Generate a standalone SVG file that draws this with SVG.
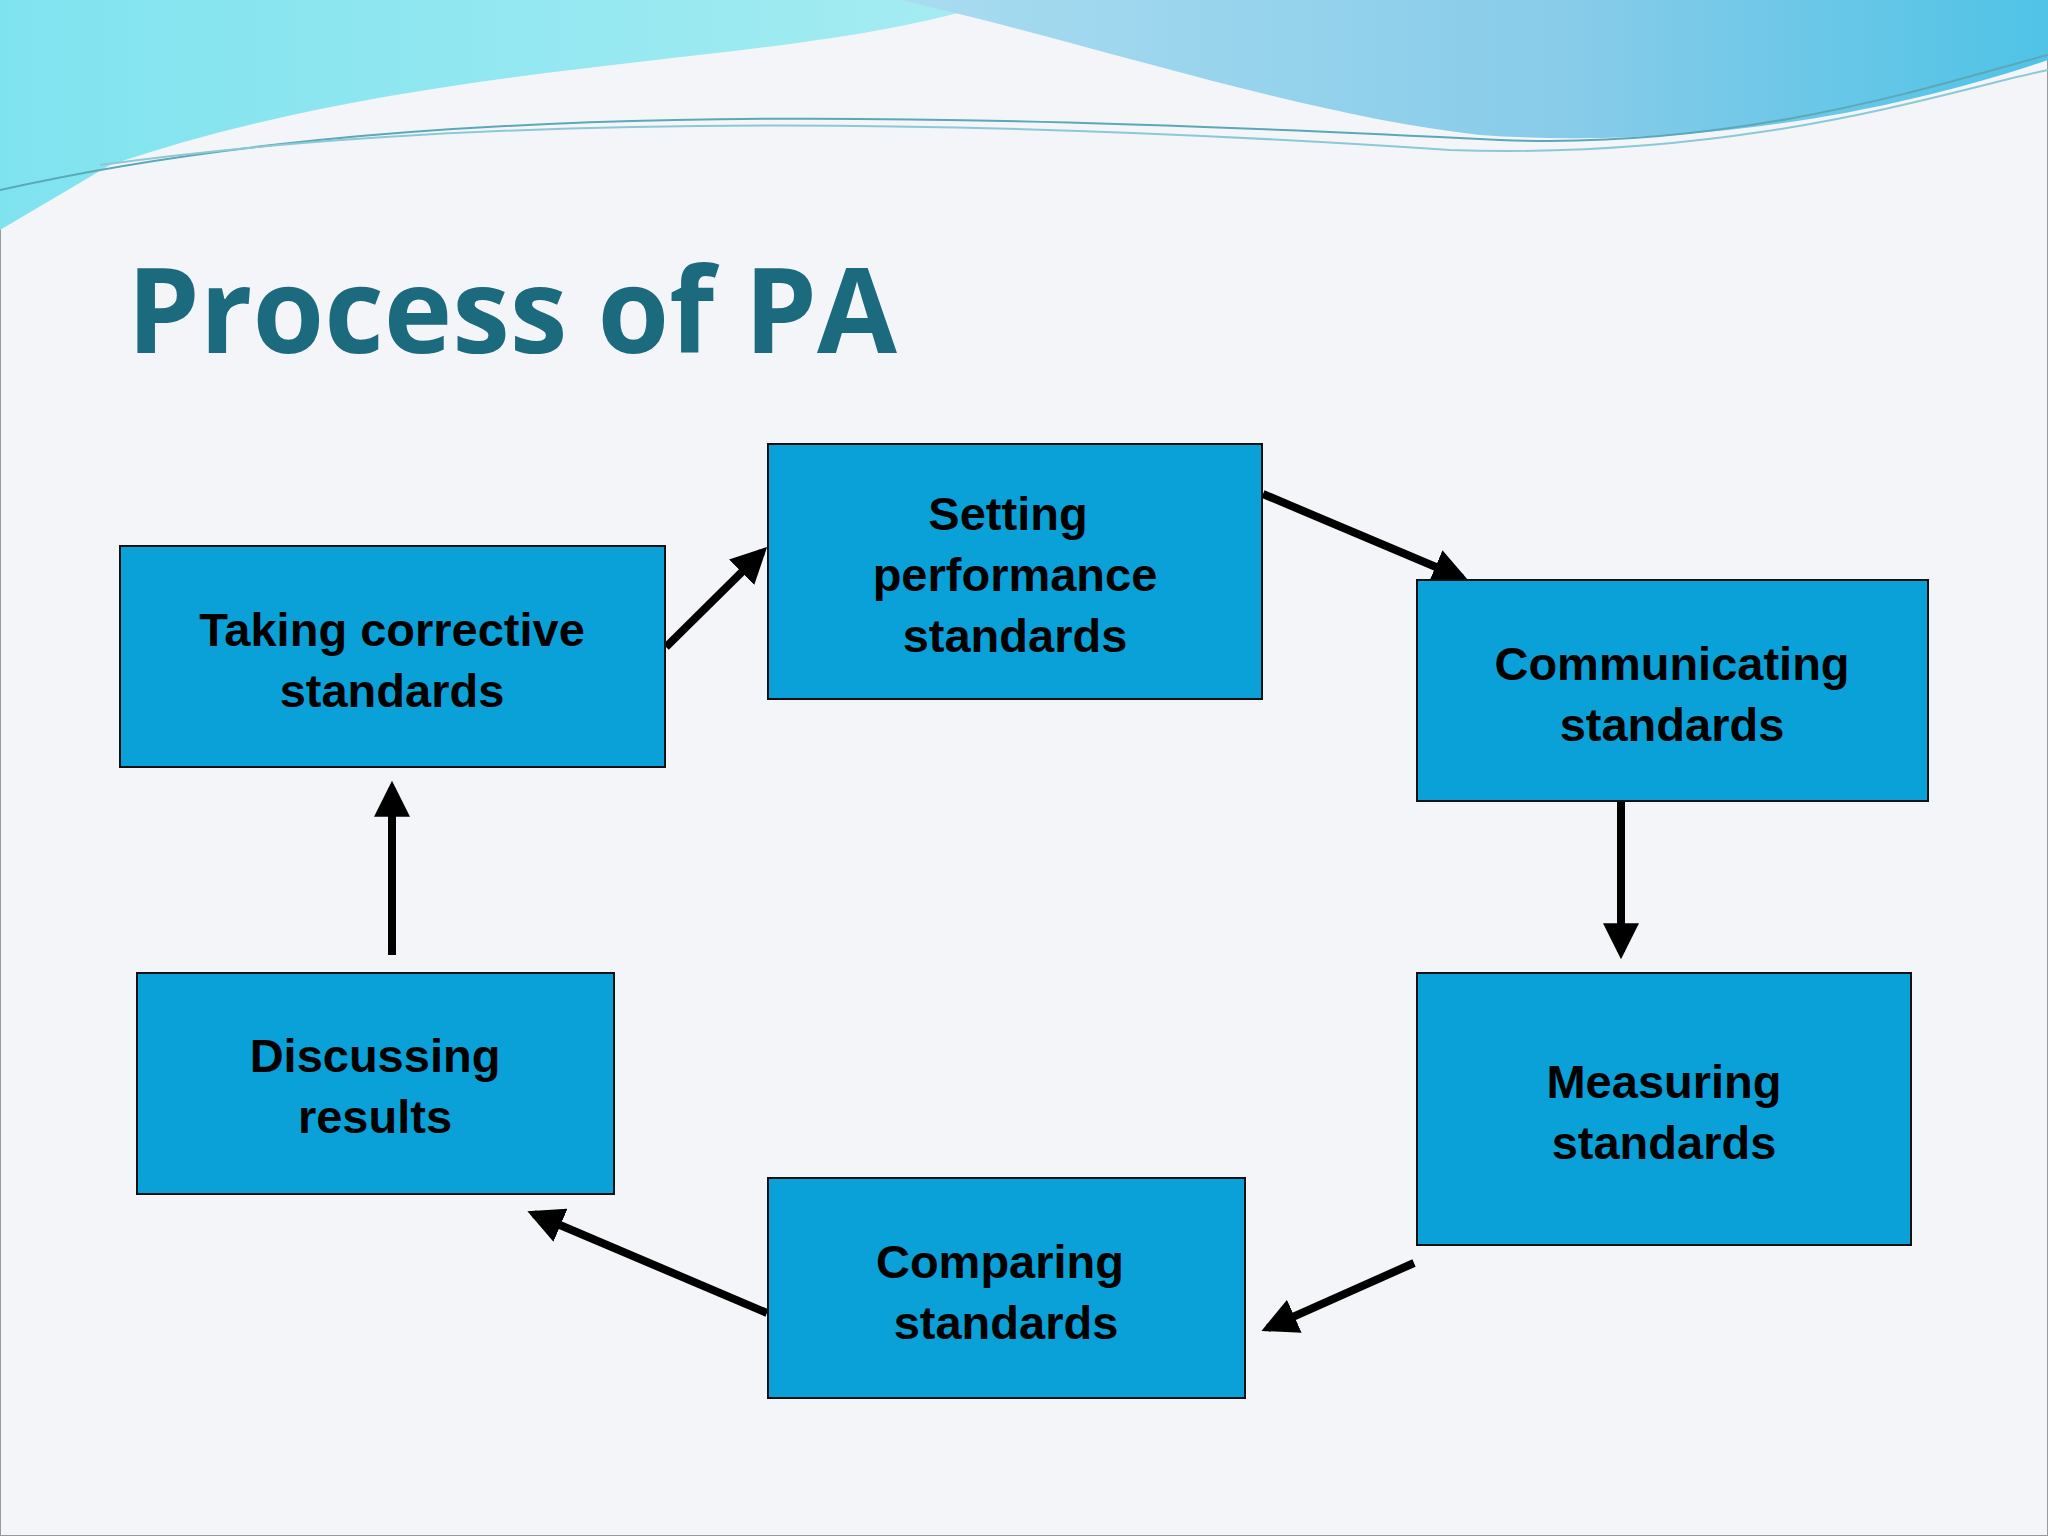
<svg xmlns="http://www.w3.org/2000/svg" width="2048" height="1536" viewBox="0 0 2048 1536">
<defs>
<linearGradient id="g1" x1="0" y1="0" x2="1" y2="0"><stop offset="0" stop-color="#7fe3ef"/><stop offset="1" stop-color="#a6ecf2"/></linearGradient>
<linearGradient id="g2" x1="0" y1="0" x2="1" y2="0"><stop offset="0" stop-color="#a9dcf0"/><stop offset="0.6" stop-color="#86cbe9"/><stop offset="1" stop-color="#4fc3e6"/></linearGradient>
<marker id="ah" viewBox="0 0 10 10" refX="8" refY="5" markerWidth="4.5" markerHeight="4.5" orient="auto" markerUnits="strokeWidth"><path d="M0,0 L10,5 L0,10 Z" fill="#000"/></marker>
<style>
.box{fill:#0aa0d8;stroke:#111;stroke-width:2}
.t{font-family:"Liberation Sans",Arial,sans-serif;font-weight:bold;font-size:47px;fill:#000;text-anchor:middle}
.c{stroke:#000;stroke-width:8;fill:none;marker-end:url(#ah)}
</style>
</defs>
<rect width="2048" height="1536" fill="#f4f5f8" stroke="#999" stroke-width="2"/>
<path d="M0 0 H1000 C800 70 450 50 110 165 L0 230 Z" fill="url(#g1)"/>
<path d="M900 0 H2048 V60 C1900 110 1700 150 1480 135 C1300 115 1100 45 900 0 Z" fill="url(#g2)"/>
<path d="M0 190 C400 100 900 110 1500 140 C1750 150 1950 80 2048 55" stroke="#5aa8b8" stroke-width="2" fill="none"/>
<path d="M100 165 C500 110 1000 120 1450 150 C1750 160 1950 90 2048 70" stroke="#8cc8d6" stroke-width="2" fill="none"/>
<text x="127" y="353" font-family="Open Sans,Liberation Sans,sans-serif" font-weight="bold" font-size="118" fill="#1b6a7e" textLength="770" lengthAdjust="spacingAndGlyphs">Process of PA</text>
<g id="connectors">
<line class="c" x1="666" y1="647" x2="762" y2="552"/>
<line class="c" x1="1263" y1="494" x2="1462" y2="578"/>
<line class="c" x1="1621" y1="802" x2="1621" y2="952"/>
<line class="c" x1="1414" y1="1263" x2="1268" y2="1328"/>
<line class="c" x1="767" y1="1313" x2="534" y2="1214"/>
<line class="c" x1="392" y1="955" x2="392" y2="788"/>
</g>
<g id="setting"><rect class="box" x="768" y="444" width="494" height="255"/><text class="t" x="1008" y="530">Setting</text><text class="t" x="1015" y="591">performance</text><text class="t" x="1015" y="652">standards</text></g>
<g id="communicating"><rect class="box" x="1417" y="580" width="511" height="221"/><text class="t" x="1672" y="680">Communicating</text><text class="t" x="1672" y="741">standards</text></g>
<g id="measuring"><rect class="box" x="1417" y="973" width="494" height="272"/><text class="t" x="1664" y="1098">Measuring</text><text class="t" x="1664" y="1159">standards</text></g>
<g id="comparing"><rect class="box" x="768" y="1178" width="477" height="220"/><text class="t" x="1000" y="1278">Comparing</text><text class="t" x="1006" y="1339">standards</text></g>
<g id="discussing"><rect class="box" x="137" y="973" width="477" height="221"/><text class="t" x="375" y="1072">Discussing</text><text class="t" x="375" y="1133">results</text></g>
<g id="taking"><rect class="box" x="120" y="546" width="545" height="221"/><text class="t" x="392" y="646">Taking corrective</text><text class="t" x="392" y="707">standards</text></g>
</svg>
